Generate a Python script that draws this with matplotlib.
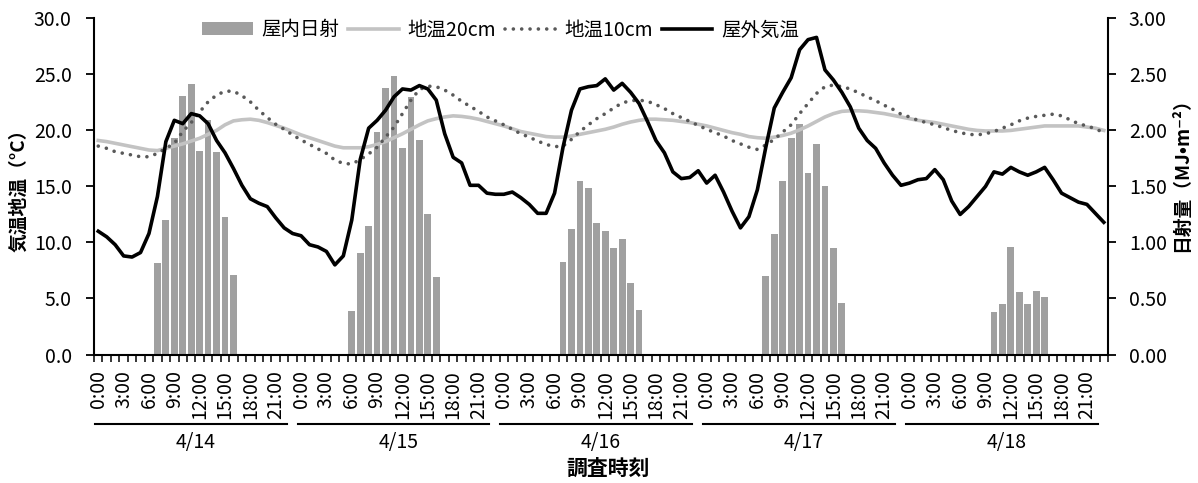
import numpy as np
import matplotlib
matplotlib.use("Agg")
import matplotlib.pyplot as plt
import matplotlib.transforms as mtransforms
from matplotlib.ticker import FormatStrFormatter

plt.rcParams['font.family'] = ['Noto Sans CJK JP', 'DejaVu Sans']

# 調査日 (1時間ごと、0:00-23:00)
days = ['4/14', '4/15', '4/16', '4/17', '4/18']
hour_labels = ['%d:00' % h for h in range(0, 24, 3)]

# 屋内日射 (MJ/m2)
rad_0414 = [0, 0, 0, 0, 0, 0, 0, 0.82, 1.20, 1.93, 2.31, 2.41, 1.82, 2.09, 1.81, 1.23, 0.71, 0, 0, 0, 0, 0, 0, 0]
rad_0415 = [0, 0, 0, 0, 0, 0, 0.39, 0.91, 1.15, 1.99, 2.38, 2.49, 1.84, 2.30, 1.91, 1.25, 0.69, 0, 0, 0, 0, 0, 0, 0]
rad_0416 = [0, 0, 0, 0, 0, 0, 0, 0.83, 1.12, 1.55, 1.49, 1.17, 1.10, 0.95, 1.03, 0.64, 0.40, 0, 0, 0, 0, 0, 0, 0]
rad_0417 = [0, 0, 0, 0, 0, 0, 0, 0.70, 1.08, 1.55, 1.93, 2.06, 1.62, 1.88, 1.50, 0.95, 0.46, 0, 0, 0, 0, 0, 0, 0]
rad_0418 = [0, 0, 0, 0, 0, 0, 0, 0, 0, 0, 0.38, 0.45, 0.96, 0.56, 0.45, 0.57, 0.51, 0, 0, 0, 0, 0, 0, 0]

# 地温20cm (℃)
s20_0414 = [19.1, 19.0, 18.85, 18.7, 18.55, 18.4, 18.25, 18.2, 18.4, 18.6, 18.8, 19.05,
            19.3, 19.65, 20.0, 20.5, 20.85, 20.95, 21.0, 20.9, 20.7, 20.45, 20.2, 19.9]
s20_0415 = [19.6, 19.35, 19.1, 18.85, 18.6, 18.45, 18.45, 18.45, 18.55, 18.75, 19.0, 19.35,
            19.7, 20.1, 20.5, 20.85, 21.05, 21.2, 21.3, 21.25, 21.15, 21.0, 20.8, 20.6]
s20_0416 = [20.4, 20.15, 19.9, 19.75, 19.6, 19.45, 19.4, 19.4, 19.5, 19.65, 19.8, 19.95,
            20.1, 20.3, 20.55, 20.75, 20.9, 21.0, 21.0, 20.95, 20.9, 20.8, 20.7, 20.55]
s20_0417 = [20.4, 20.2, 20.0, 19.8, 19.65, 19.45, 19.35, 19.3, 19.4, 19.55, 19.75, 20.05,
            20.4, 20.8, 21.2, 21.5, 21.7, 21.75, 21.75, 21.7, 21.6, 21.5, 21.35, 21.2]
s20_0418 = [21.05, 20.9, 20.8, 20.7, 20.55, 20.4, 20.25, 20.1, 20.0, 19.95, 19.95, 19.95,
            20.0, 20.1, 20.2, 20.3, 20.4, 20.4, 20.4, 20.4, 20.4, 20.3, 20.2, 20.0]

# 地温10cm (℃)
s10_0414 = [18.6, 18.4, 18.1, 17.95, 17.8, 17.65, 17.65, 17.95, 18.4, 18.85, 19.9, 20.7,
            21.65, 22.55, 23.15, 23.5, 23.5, 23.1, 22.55, 21.8, 21.15, 20.55, 20.1, 19.6]
s10_0415 = [19.15, 18.75, 18.35, 17.95, 17.35, 17.05, 17.0, 17.4, 17.9, 18.5, 19.4, 20.3,
            21.5, 22.7, 23.65, 23.95, 23.9, 23.6, 23.15, 22.6, 22.15, 21.7, 21.2, 20.85]
s10_0416 = [20.5, 20.1, 19.7, 19.4, 19.05, 18.75, 18.55, 18.6, 19.2, 19.9, 20.5, 21.05,
            21.5, 22.0, 22.45, 22.65, 22.7, 22.6, 22.3, 21.95, 21.5, 21.15, 20.8, 20.45]
s10_0417 = [20.1, 19.8, 19.5, 19.1, 18.8, 18.5, 18.3, 18.7, 19.2, 19.85, 20.5, 21.5,
            22.4, 23.3, 23.9, 24.05, 23.9, 23.7, 23.35, 23.0, 22.65, 22.25, 21.9, 21.45]
s10_0418 = [21.2, 20.9, 20.7, 20.5, 20.25, 20.0, 19.8, 19.65, 19.6, 19.7, 19.9, 20.2,
            20.5, 20.85, 21.1, 21.25, 21.35, 21.45, 21.3, 20.95, 20.6, 20.4, 20.15, 19.8]

# 屋外気温 (℃)
air_0414 = [11.0, 10.5, 9.8, 8.8, 8.7, 9.1, 10.8, 14.1, 19.0, 20.9, 20.6, 21.5,
            21.3, 20.6, 19.1, 18.0, 16.6, 15.1, 13.9, 13.5, 13.2, 12.2, 11.3, 10.8]
air_0415 = [10.6, 9.8, 9.6, 9.2, 8.0, 8.8, 12.0, 17.4, 20.2, 20.9, 21.8, 23.0,
            23.7, 23.6, 24.0, 23.7, 22.7, 19.7, 17.6, 17.1, 15.1, 15.1, 14.4, 14.3]
air_0416 = [14.3, 14.5, 14.0, 13.4, 12.6, 12.6, 14.4, 18.5, 21.8, 23.7, 23.9, 24.0,
            24.6, 23.6, 24.2, 23.4, 22.4, 20.8, 19.1, 18.0, 16.3, 15.7, 15.8, 16.4]
air_0417 = [15.3, 16.0, 14.5, 12.8, 11.3, 12.3, 14.7, 18.5, 22.0, 23.4, 24.7, 27.2,
            28.1, 28.3, 25.4, 24.5, 23.4, 22.1, 20.2, 19.1, 18.4, 17.1, 16.0, 15.1]
air_0418 = [15.3, 15.6, 15.7, 16.5, 15.6, 13.7, 12.5, 13.2, 14.1, 15.0, 16.3, 16.1,
            16.7, 16.3, 16.0, 16.3, 16.7, 15.6, 14.4, 14.0, 13.6, 13.4, 12.6, 11.8]

radiation = rad_0414 + rad_0415 + rad_0416 + rad_0417 + rad_0418
soil20 = s20_0414 + s20_0415 + s20_0416 + s20_0417 + s20_0418
soil10 = s10_0414 + s10_0415 + s10_0416 + s10_0417 + s10_0418
air = air_0414 + air_0415 + air_0416 + air_0417 + air_0418
x = np.arange(len(air))

fig = plt.figure(figsize=(11.98, 4.83), dpi=100)
ax = fig.add_axes([0.0785, 0.266, 0.8464, 0.696])
ax2 = ax.twinx()
# 折れ線を棒グラフの上に描く
ax.set_zorder(ax2.get_zorder() + 1)
ax.patch.set_visible(False)

bars = ax2.bar(x, radiation, width=0.8, color='#a0a0a0', label='屋内日射')
l20, = ax.plot(x, soil20, color='#c3c3c3', lw=2.6, label='地温20cm')
l10, = ax.plot(x, soil10, color='#595959', lw=2.6, linestyle=(0, (0.01, 2.3)),
               dash_capstyle='round', label='地温10cm')
lair, = ax.plot(x, air, color='black', lw=2.6, label='屋外気温')

ax.set_xlim(-0.5, len(x) - 0.5)
ax.set_ylim(0, 30)
ax2.set_ylim(0, 3)
ax.set_yticks(np.arange(0, 31, 5))
ax2.set_yticks(np.arange(0, 3.01, 0.5))
ax.yaxis.set_major_formatter(FormatStrFormatter('%.1f'))
ax2.yaxis.set_major_formatter(FormatStrFormatter('%.2f'))

for a in (ax, ax2):
    a.spines['top'].set_visible(False)
    for s in a.spines.values():
        s.set_linewidth(1.5)
ax.spines['right'].set_visible(False)
ax2.spines['left'].set_visible(False)
ax2.spines['bottom'].set_visible(False)

ax.tick_params(axis='y', direction='out', length=6, width=1.3, pad=10, labelsize=14)
ax2.tick_params(axis='y', direction='out', length=6, width=1.3, pad=9, labelsize=14)

# 時刻ラベル (3時間おき) と1時間ごとの目盛り
ax.set_xticks([d * 24 + h for d in range(len(days)) for h in range(0, 24, 3)])
ax.set_xticklabels(hour_labels * len(days), rotation=90, fontsize=14, va='top')
ax.set_xticks(np.arange(-0.5, len(x), 1), minor=True)
ax.tick_params(axis='x', which='major', length=0, pad=11)
ax.tick_params(axis='x', which='minor', direction='out', length=5, width=1.1)

# 日付ラベルと下線
trans = mtransforms.blended_transform_factory(ax.transData, ax.transAxes)
for d, day in enumerate(days):
    ax.plot([d * 24 - 0.4, d * 24 + 22.3], [-0.208, -0.208], color='black', lw=1.5,
            transform=trans, clip_on=False)
    ax.text(d * 24 + 11.5, -0.263, day, transform=trans, ha='center', va='center', fontsize=14)

fig.text(0.508, 0.031, '調査時刻', ha='center', va='center', fontsize=15, fontweight='bold')
fig.text(0.016, 0.615, '気温地温（°C）', rotation=90, ha='center', va='center',
         fontsize=13.5, fontweight='bold')
fig.text(0.986, 0.648, '日射量（MJ•m⁻²）', rotation=90, ha='center', va='center',
         fontsize=13.5, fontweight='bold')

ax.legend([bars, l20, l10, lair], ['屋内日射', '地温20cm', '地温10cm', '屋外気温'],
          loc='center', bbox_to_anchor=(0.418, 0.938), bbox_transform=fig.transFigure,
          ncol=4, frameon=False, fontsize=14, handlelength=2.6, handletextpad=0.45,
          columnspacing=0.45, handleheight=0.6)

fig.savefig('out.png', dpi=100)
